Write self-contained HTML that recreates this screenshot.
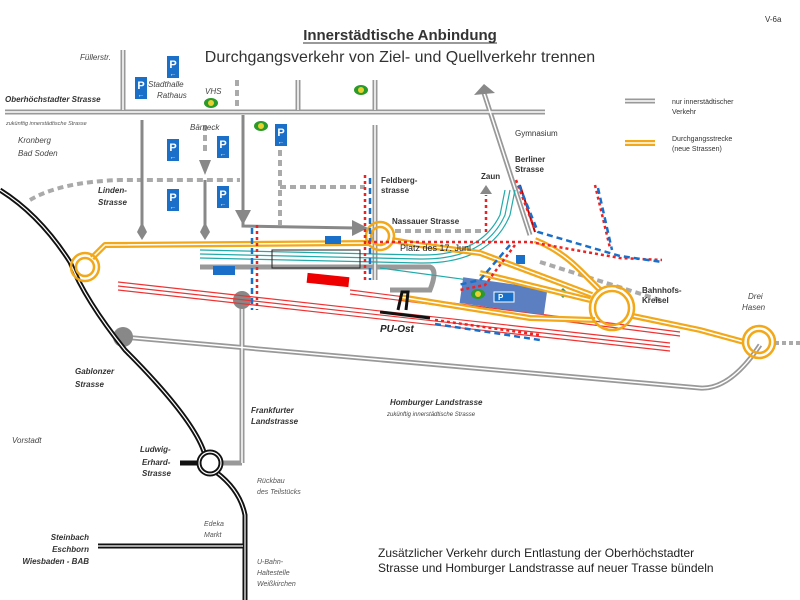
<!DOCTYPE html>
<html><head><meta charset="utf-8"><style>
body{margin:0;background:#fff}
svg{display:block}
text{font-family:"Liberation Sans",sans-serif}
.it{font-style:italic;font-size:8px;fill:#444}
.b{font-weight:bold;font-size:8px;fill:#333}
</style></head><body>
<svg width="800" height="600" viewBox="0 0 800 600">
<defs>
<g id="P"><rect x="-6" y="-11" width="12" height="22" fill="#1a6fc9"/><text x="0" y="1" font-size="11" font-weight="bold" fill="#fff" text-anchor="middle">P</text><text x="0" y="9" font-size="7" fill="#fff" text-anchor="middle">←</text></g>
<g id="H"><ellipse rx="7" ry="5" fill="#2a9a2a"/><circle r="3" fill="#e8d030"/></g>
</defs>
<text x="400" y="40" font-size="15" font-weight="bold" text-anchor="middle" fill="#333">Innerstädtische Anbindung</text>
<line x1="303" y1="43" x2="497" y2="43" stroke="#333" stroke-width="1"/>
<text x="400" y="62" font-size="16" text-anchor="middle" fill="#333">Durchgangsverkehr von Ziel- und Quellverkehr  trennen</text>
<text x="765" y="22" font-size="8" fill="#333">V-6a</text>

<g stroke="#999" stroke-width="5" fill="none">
<line x1="5" y1="112" x2="545" y2="112"/>
<line x1="123" y1="50" x2="123" y2="110"/>
<line x1="298" y1="80" x2="298" y2="110"/>
<line x1="375" y1="80" x2="375" y2="110"/>
<line x1="375" y1="125" x2="375" y2="280"/>
<line x1="625" y1="101" x2="655" y2="101"/>
<path d="M123 337 L700 388 Q730 390 760 345"/>
<line x1="242" y1="300" x2="242" y2="463"/>
<line x1="242" y1="463" x2="222" y2="463"/>
<path d="M200 267 L430 267 Q438 270 430 290 L390 290"/>
<line x1="483" y1="90" x2="530" y2="235"/>
</g>
<g stroke="#fff" stroke-width="1.5" fill="none">
<line x1="5" y1="112" x2="545" y2="112"/>
<line x1="123" y1="50" x2="123" y2="110"/>
<line x1="298" y1="80" x2="298" y2="110"/>
<line x1="375" y1="80" x2="375" y2="110"/>
<line x1="375" y1="125" x2="375" y2="280"/>
<line x1="625" y1="101" x2="655" y2="101"/>
<path d="M123 337 L700 388 Q730 390 760 345"/>
<line x1="242" y1="300" x2="242" y2="463"/>
<line x1="483" y1="90" x2="530" y2="235"/>
</g>
<polygon points="474,95 495,93 484,84" fill="#888"/>
<circle cx="123" cy="337" r="10" fill="#888"/>
<circle cx="242" cy="300" r="9" fill="#888"/>
<g stroke="#aaa" stroke-width="4" fill="none" stroke-dasharray="6,4">
<path d="M30 200 Q60 182 120 180 L240 180"/>
<line x1="280" y1="187" x2="365" y2="187"/>
<line x1="280" y1="140" x2="280" y2="225"/>
<line x1="237" y1="80" x2="237" y2="108"/>
<line x1="205" y1="125" x2="205" y2="155"/>
<line x1="395" y1="231" x2="485" y2="231"/>
<line x1="540" y1="262" x2="660" y2="300"/>
</g>
<g stroke="#888" stroke-width="3" fill="none">
<line x1="142" y1="120" x2="142" y2="228"/>
<line x1="205" y1="180" x2="205" y2="228"/>
<path d="M243 115 L243 226 L355 228"/>
</g>
<g fill="#888">
<polygon points="142,222 147,232 142,240 137,232"/>
<polygon points="205,222 210,232 205,240 200,232"/>
<polygon points="199,160 211,160 205,175"/>
<polygon points="235,210 251,210 243,225"/>
<polygon points="352,220 368,228 352,236"/>
</g>
<g stroke="#111" stroke-width="5" fill="none">
<path d="M0 190 Q40 215 70 262 Q85 300 125 350 Q195 420 205 455"/>
<path d="M216 472 Q240 490 245 515 L245 600"/>
<line x1="98" y1="546" x2="243" y2="546"/>
<line x1="180" y1="463" x2="200" y2="463"/>
</g>
<g stroke="#fff" stroke-width="1.2" fill="none">
<path d="M0 190 Q40 215 70 262 Q85 300 125 350 Q195 420 205 455"/>
<path d="M216 472 Q240 490 245 515 L245 600"/>
<line x1="98" y1="546" x2="243" y2="546"/>
</g>
<circle cx="210" cy="463" r="11" fill="none" stroke="#111" stroke-width="5"/>
<circle cx="210" cy="463" r="11" fill="none" stroke="#fff" stroke-width="1.2"/>
<g stroke="#e33" stroke-width="1.2" fill="none">
<path d="M118 282 L670 343"/><path d="M118 286 L670 347"/><path d="M118 290 L670 351"/>
<path d="M350 290 L680 332"/><path d="M350 294 L680 336"/>
</g>
<rect x="307" y="275" width="42" height="10" fill="#e00" transform="rotate(6 328 280)"/>
<line x1="520" y1="185" x2="535" y2="232" stroke="#b00" stroke-width="2"/>
<g stroke="#2aa" stroke-width="1.2" fill="none">
<path d="M200 250 L420 255 Q480 256 500 215 L505 190"/>
<path d="M200 254 L420 259 Q485 260 505 215 L510 190"/>
<path d="M200 258 L420 263 Q490 264 510 215 L515 190"/>
<path d="M380 268 L565 293"/>
</g>
<rect x="272" y="250" width="88" height="18" fill="none" stroke="#222" stroke-width="1"/>
<rect x="461" y="283" width="85" height="26" fill="#5b7fc0" transform="rotate(8 503 296)"/>
<rect x="494" y="292" width="20" height="10" fill="#1a6fc9" stroke="#fff" stroke-width="1"/>
<text x="498" y="300" font-size="8" fill="#fff" font-weight="bold">P</text>
<use href="#H" x="478" y="294"/>
<rect x="516" y="255" width="9" height="9" fill="#1a6fc9"/>
<polygon points="563,288 568,293 563,298 558,293" fill="#1a9a80"/>
<g stroke="#f2a818" stroke-width="6" fill="none" stroke-linejoin="round">
<path d="M92 258 L105 245 L370 243"/>
<path d="M392 240 L420 245 L480 253 L592 295"/>
<path d="M480 273 L590 300"/>
<path d="M400 297 L530 318 L595 320"/>
<path d="M535 240 Q560 250 580 270 L600 290"/>
<path d="M633 316 L700 330 L744 342"/>
<line x1="625" y1="143" x2="655" y2="143"/>
</g>
<g stroke="#fff" stroke-width="1.5" fill="none" stroke-linejoin="round">
<path d="M92 258 L105 245 L370 243"/>
<path d="M392 240 L420 245 L480 253 L592 295"/>
<path d="M480 273 L590 300"/>
<path d="M400 297 L530 318 L595 320"/>
<path d="M535 240 Q560 250 580 270 L600 290"/>
<path d="M633 316 L700 330 L744 342"/>
<line x1="625" y1="143" x2="655" y2="143"/>
</g>
<g fill="none" stroke="#f2a818" stroke-width="2.5">
<circle cx="85" cy="267" r="14"/><circle cx="85" cy="267" r="9"/>
<circle cx="380" cy="236" r="14"/><circle cx="380" cy="236" r="9"/>
<circle cx="612" cy="308" r="22"/><circle cx="612" cy="308" r="17"/>
<circle cx="759" cy="342" r="16"/><circle cx="759" cy="342" r="11"/>
</g>
<g fill="none" stroke-width="2.5">
<path d="M257 225 L257 310" stroke="#e22" stroke-dasharray="3,3"/>
<path d="M252 228 L252 310" stroke="#1a6fc9" stroke-dasharray="6,4"/>
<path d="M365 175 L365 280" stroke="#e22" stroke-dasharray="3,3"/>
<path d="M370 178 L370 280" stroke="#1a6fc9" stroke-dasharray="6,4"/>
<path d="M368 242 L530 242 L620 258 L662 260" stroke="#e22" stroke-dasharray="3,3"/>
<path d="M486 232 L486 195" stroke="#e22" stroke-dasharray="3,3"/>
<path d="M516 180 L535 230" stroke="#e22" stroke-dasharray="3,3"/>
<path d="M519 185 L538 232 L620 256 L662 262" stroke="#1a6fc9" stroke-dasharray="6,4"/>
<path d="M595 185 L610 248" stroke="#e22" stroke-dasharray="3,3"/>
<path d="M598 188 L612 250" stroke="#1a6fc9" stroke-dasharray="6,4"/>
<path d="M515 245 L485 285 L460 290" stroke="#e22" stroke-dasharray="3,3"/>
<path d="M510 245 L480 280 L458 285" stroke="#1a6fc9" stroke-dasharray="6,4"/>
<path d="M435 320 L540 335" stroke="#e22" stroke-dasharray="3,3"/>
<path d="M435 324 L540 340" stroke="#1a6fc9" stroke-dasharray="6,4"/>
</g>
<polygon points="480,194 492,194 486,185" fill="#888"/>
<path d="M380 312 L430 318" stroke="#111" stroke-width="3"/>
<path d="M398 310 L402 292 L408 292 L406 310" stroke="#111" stroke-width="3" fill="none"/>
<use href="#P" x="173" y="67"/><use href="#P" x="141" y="88"/>
<use href="#P" x="173" y="150"/><use href="#P" x="223" y="147"/>
<use href="#P" x="173" y="200"/><use href="#P" x="223" y="197"/>
<use href="#P" x="281" y="135"/>
<rect x="325" y="236" width="16" height="8" fill="#1a6fc9"/><rect x="213" y="266" width="22" height="9" fill="#1a6fc9"/>
<use href="#H" x="211" y="103"/><use href="#H" x="261" y="126"/><use href="#H" x="361" y="90"/>
<text class="it" x="80" y="60">Füllerstr.</text>
<text class="it" x="148" y="87">Stadthalle</text><text class="it" x="157" y="98">Rathaus</text>
<text class="it" x="205" y="94">VHS</text>
<text class="b" x="5" y="102" font-style="italic">Oberhöchstadter Strasse</text>
<text x="6" y="125" font-size="5.5" font-style="italic" fill="#555">zukünftig innerstädtische Strasse</text>
<text class="it" x="190" y="130">Bärneck</text>
<text class="it" x="18" y="143">Kronberg</text><text class="it" x="18" y="156">Bad Soden</text>
<text class="b" x="98" y="193" font-style="italic">Linden-</text><text class="b" x="98" y="205" font-style="italic">Strasse</text>
<text class="b" x="381" y="183" font-size="7">Feldberg-</text><text class="b" x="381" y="193" font-size="7">strasse</text>
<text class="b" x="392" y="224" font-size="7">Nassauer Strasse</text>
<text x="400" y="251" font-size="9" fill="#222">Platz des 17. Juni</text>
<text class="b" x="481" y="179" font-size="7">Zaun</text>
<text class="b" x="515" y="162" font-size="7">Berliner</text><text class="b" x="515" y="172" font-size="7">Strasse</text>
<text x="515" y="136" font-size="8" fill="#333">Gymnasium</text>
<text x="672" y="104" font-size="7" fill="#333">nur innerstädtischer</text><text x="672" y="114" font-size="7" fill="#333">Verkehr</text>
<text x="672" y="141" font-size="7" fill="#333">Durchgangsstrecke</text><text x="672" y="151" font-size="7" fill="#333">(neue Strassen)</text>
<text class="b" x="642" y="293" font-size="7">Bahnhofs-</text><text class="b" x="642" y="303" font-size="7">Kreisel</text>
<text class="it" x="748" y="299">Drei</text><text class="it" x="742" y="310">Hasen</text>
<text x="380" y="332" font-size="10" font-weight="bold" font-style="italic" fill="#222">PU-Ost</text>
<text class="b" x="75" y="374" font-style="italic">Gablonzer</text><text class="b" x="75" y="387" font-style="italic">Strasse</text>
<text class="b" x="390" y="405" font-size="9" font-style="italic">Homburger Landstrasse</text>
<text x="387" y="416" font-size="6" font-style="italic" fill="#444">zukünftig  innerstädtische Strasse</text>
<text class="b" x="251" y="413" font-style="italic">Frankfurter</text><text class="b" x="251" y="424" font-style="italic">Landstrasse</text>
<text class="it" x="12" y="443">Vorstadt</text>
<text class="b" x="140" y="452" font-style="italic">Ludwig-</text><text class="b" x="142" y="465" font-style="italic">Erhard-</text><text class="b" x="142" y="476" font-style="italic">Strasse</text>
<text x="257" y="483" font-size="7" font-style="italic" fill="#555">Rückbau</text><text x="257" y="494" font-style="italic" font-size="7" fill="#555">des Teilstücks</text>
<text x="204" y="526" font-size="7" font-style="italic" fill="#555">Edeka</text><text x="204" y="537" font-size="7" font-style="italic" fill="#555">Markt</text>
<text class="b" x="89" y="540" text-anchor="end" font-style="italic">Steinbach</text>
<text class="b" x="89" y="552" text-anchor="end" font-style="italic">Eschborn</text>
<text class="b" x="89" y="564" text-anchor="end" font-style="italic">Wiesbaden - BAB</text>
<text x="257" y="564" font-size="7" font-style="italic" fill="#555">U-Bahn-</text><text x="257" y="575" font-size="7" font-style="italic" fill="#555">Haltestelle</text><text x="257" y="586" font-size="7" font-style="italic" fill="#555">Weißkirchen</text>
<text x="378" y="557" font-size="12" fill="#222">Zusätzlicher Verkehr durch Entlastung der Oberhöchstadter</text>
<text x="378" y="572" font-size="12" fill="#222">Strasse und Homburger Landstrasse auf neuer Trasse bündeln</text>
<g stroke="#aaa" stroke-width="4" stroke-dasharray="4,3"><line x1="775" y1="343" x2="800" y2="343"/></g>
</svg>
</body></html>
